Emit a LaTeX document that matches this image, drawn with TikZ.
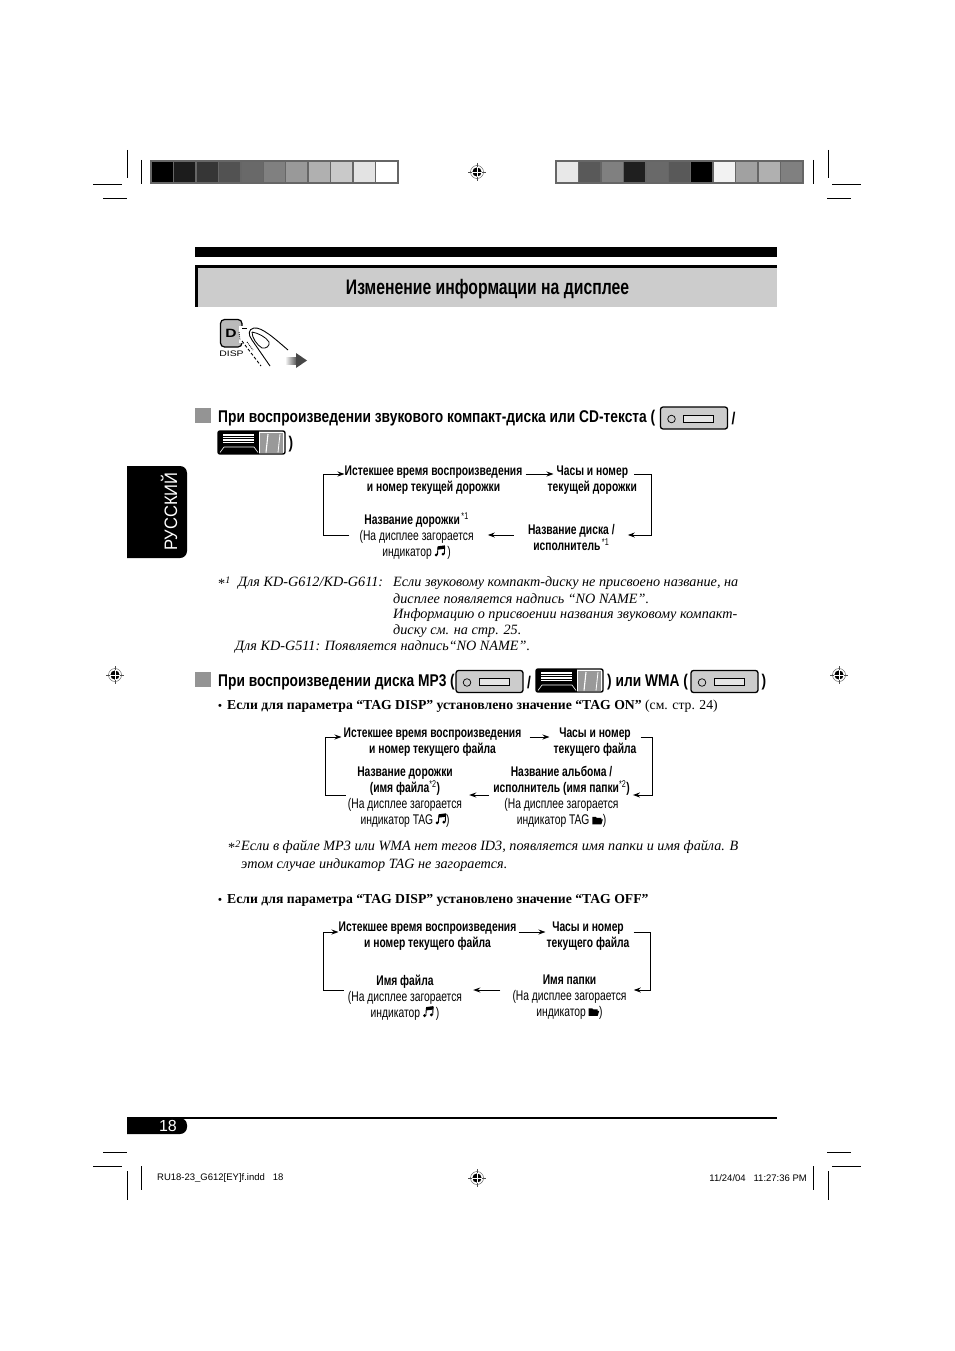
\documentclass[tikz,border=0pt]{standalone}
\usepackage{fontspec}
\setmainfont{Liberation Serif}
\newfontfamily\titlefont[FakeStretch=.75]{Liberation Sans}
\newfontfamily\headfont[FakeStretch=.81]{Liberation Sans}
\newfontfamily\flowfont[FakeStretch=.735]{Liberation Sans}
\newfontfamily\tabfont[FakeStretch=.92]{Liberation Sans}
\newfontfamily\footfont{Liberation Sans}
\newfontfamily\widefont[FakeStretch=1.3]{Liberation Sans}
\usetikzlibrary{arrows.meta,positioning,calc}
\newcommand{\notemark}{\tikz[baseline=0pt,x=1pt,y=1pt]{\fill (1.6,1.4) circle (1.6pt); \fill (8.4,2.2) circle (1.6pt); \draw[line width=.9pt] (2.9,1.4) -- (3.3,9) (9.7,2.2) -- (10.1,10); \fill (3,10) -- (10.4,11) -- (10.4,7.6) -- (3,6.6) -- cycle;}}
\newcommand{\foldmark}{\tikz[baseline=0pt,x=1pt,y=1pt]{\fill (0,0.5) -- (0,8) -- (3.5,8) -- (4.5,7) -- (9,7) -- (9,5.5) -- (10.5,5.5) -- (9,0.5) -- cycle;}}
\newcommand{\smallbullet}{\makebox[9pt][l]{\fontsize{11}{11}\selectfont •}}
\tikzset{
    flowbox/.style={font=\flowfont\fontsize{14}{16}\selectfont, align=center, inner sep=0pt},
    flowbold/.style={flowbox, font=\flowfont\bfseries\fontsize{14}{16}\selectfont},
    headbox/.style={font=\headfont\bfseries\fontsize{17}{20}\selectfont, inner sep=0pt},
    notebox/.style={font=\itshape\fontsize{14.2}{16}\selectfont, inner sep=0pt, anchor=west},
    bulletbox/.style={font=\bfseries\fontsize{13.7}{16}\selectfont, inner sep=0pt, anchor=west},
    flowline/.style={line width=1pt},
    flowarrow/.style={flowline, -{Stealth[length=7pt,width=5pt]}},
    cropline/.style={line width=.8pt},
    regline/.style={line width=.4pt, black!70},
    squaremark/.style={fill=black!42},
    cdunit/.pic={
        \draw[line width=1.3pt, rounded corners=2.5pt, fill=black!20] (0,0) rectangle (67,22);
        \draw[line width=.7pt] (11,12) circle (3.8pt);
        \draw[line width=1pt, fill=black!10] (23,8) rectangle (53,15);
    },
    dispunit/.pic={
        \draw[line width=1.4pt, rounded corners=2pt, fill=white] (0,0) rectangle (67,23);
        \fill (0,0) rectangle (41,23);
        \foreach \yy in {3,4.7,...,13} \draw[white, line width=.8pt] (5,\yy) -- (36,\yy);
        \draw[white, line width=.6pt] (2,21.5) -- (6,16) -- (36,16) -- (40,21.5);
        \fill[black!40] (42,1.5) rectangle (65,21.5);
        \draw[white, line width=1.1pt] (48,21.5) -- (50,3);
        \draw[white, line width=.8pt] (60,21.5) -- (62,3);
    }
}
\begin{document}
\begin{tikzpicture}[x=1pt, y=-1pt]
\useasboundingbox (0,0) rectangle (954,1351);
\fill[white] (0,0) rectangle (954,1351);
% colour bars
\fill[black!60] (150,160) rectangle (399,184);
\foreach \shade [count=\i from 0] in {100,89,79,68,59,50,40,31,21,11,0}
    \fill[black!\shade] (152+22.4*\i,162) rectangle (173+22.4*\i,182);
\fill[black!60] (555,160) rectangle (804,184);
\foreach \shade [count=\i from 0] in {9,65,50,88,59,65,100,5,37,31,50}
    \fill[black!\shade] (557+22.4*\i,162) rectangle (578+22.4*\i,182);
% crop marks
\draw[cropline] (127,150) -- (127,178);
\draw[cropline] (141,160) -- (141,184);
\draw[cropline] (813,160) -- (813,184);
\draw[cropline] (828,150) -- (828,178);
\draw[cropline] (93,184) -- (122,184);
\draw[cropline] (103,198) -- (127,198);
\draw[cropline] (832,184) -- (861,184);
\draw[cropline] (827,198) -- (851,198);
\draw[cropline] (103,1152) -- (127,1152);
\draw[cropline] (93,1166) -- (122,1166);
\draw[cropline] (827,1152) -- (851,1152);
\draw[cropline] (832,1166) -- (861,1166);
\draw[cropline] (127,1171) -- (127,1200);
\draw[cropline] (141,1166) -- (141,1190);
\draw[cropline] (813,1166) -- (813,1190);
\draw[cropline] (828,1171) -- (828,1200);
% registration marks
\foreach \rx/\ry in {477/172,477/1178,115/675,839/675} {
    \draw[regline] (\rx,\ry) circle (6.5pt);
    \draw[regline] (\rx-9,\ry) -- (\rx+9,\ry);
    \draw[regline] (\rx,\ry-9) -- (\rx,\ry+9);
    \fill (\rx,\ry) circle (4.6pt);
    \draw[white, line width=.7pt] (\rx-5,\ry) -- (\rx+5,\ry);
    \draw[white, line width=.7pt] (\rx,\ry-5) -- (\rx,\ry+5);
}
% title
\fill (195,247) rectangle (777,257);
\fill[black!20] (195,265) rectangle (777,307);
\fill (195,265) rectangle (777,268);
\fill (195,265) rectangle (198,307);
\node[font=\titlefont\bfseries\fontsize{21}{24}\selectfont, inner sep=0pt] (title) at (487.5,289.5) {Изменение информации на дисплее};
% display button and finger
\draw[line width=1.2pt, fill=black!27, rounded corners=4pt] (220.5,319.5) rectangle (242,347);
\node[font=\widefont\bfseries\fontsize{12}{12}\selectfont, inner sep=0pt] (dkey) at (231,333) {D};
\node[font=\widefont\fontsize{8}{8}\selectfont, inner sep=0pt] (disp) at (231.5,353.5) {DISP};
\fill[white] (239,326) rectangle (244,343);
\draw[line width=.9pt] (242,328) -- (247,328);
\draw[line width=.9pt, densely dotted] (239,332) -- (240,340);
\draw[line width=.9pt, densely dashed] (242,341) -- (261,366);
\draw[line width=.9pt, densely dotted] (247,342) -- (253,350);
\draw[line width=.9pt] (288,350) .. controls (274,338) and (262,327) .. (254,328) .. controls (248,329) and (248,335) .. (252,340) -- (270,366);
\draw[line width=.8pt] (252,332) .. controls (258,333) and (266,337) .. (269,342) .. controls (270,346) and (266,349) .. (262,348) .. controls (257,345) and (252,338) .. (252,332);
\fill[left color=white, right color=black!70] (285,357) rectangle (297,364);
\fill[black!72] (296,353) -- (307,360.5) -- (296,368) -- cycle;
% side tab
\fill (127,466) -- (176,466) [rounded corners=7pt] -- (187,466) -- (187,558) [sharp corners] -- (127,558) -- cycle;
\node[font=\tabfont\fontsize{18}{18}\selectfont, text=white, rotate=90, inner sep=0pt] (tablabel) at (169,511.5) {РУССКИЙ};
% first section
\fill[squaremark] (195,408) rectangle (211,423);
\node[headbox, anchor=west] (headA) at (218,418.5) {При воспроизведении звукового компакт-диска или CD-текста (};
\pic at (660.5,407) {cdunit};
\node[headbox] (slashA) at (733.5,418.5) {/};
\pic at (218,431) {dispunit};
\node[headbox] (closeA) at (291,444.5) {)};
\node[flowbold] (elapsedA) at (433.5,480) {Истекшее время воспроизведения\\и номер текущей дорожки};
\node[flowbold, right=25pt of elapsedA] (clockA) {Часы и номер\\текущей дорожки};
\node[flowbold, below=30pt of clockA, xshift=-21pt] (discA) {Название диска /\\исполнитель\textsuperscript{\,\textmd{*1}}};
\node[flowbox, left=54pt of discA, yshift=2pt] (trackA) {\textbf{Название дорожки}\textsuperscript{\,*1}\\(На дисплее загорается\\индикатор \notemark\,)};
\coordinate (leftA) at (323,535);
\coordinate (rightA) at (651,535);
\draw[flowarrow] ([xshift=-10pt]trackA.west |- leftA) -- (leftA) |- ([yshift=6pt]elapsedA.west);
\draw[flowarrow] ([shift={(3,-6)}]elapsedA.east) -- ([shift={(6,-6)}]clockA.west);
\draw[flowarrow] ([shift={(-3,-6)}]clockA.east) -| (rightA) -- ([xshift=13pt]discA.east |- rightA);
\draw[flowarrow] ([xshift=-14pt]discA.west |- rightA) -- ([xshift=14pt]trackA.east |- rightA);
% first footnote
\node[notebox] (markA) at (218,583) {\textup{*}\textsuperscript{1}};
\node[notebox] (modelA) at (238,583) {Для KD-G612/KD-G611:};
\node[notebox] (noteAa) at (393,583) {Если звуковому компакт-диску не присвоено название, на};
\node[notebox] (noteAb) at (393,599) {дисплее появляется надпись “NO NAME”.};
\node[notebox] (noteAc) at (393,615) {Информацию о присвоении названия звуковому компакт-};
\node[notebox] (noteAd) at (393,631) {диску см. на стр. 25.};
\node[notebox] (modelB) at (235,647) {Для KD-G511: Появляется надпись“NO NAME”.};
% second section
\fill[squaremark] (195,672) rectangle (211,687);
\node[headbox, anchor=west] (headB) at (218,682.5) {При воспроизведении диска MP3 (};
\pic at (456,670.5) {cdunit};
\node[headbox] (slashB) at (529,682.5) {/};
\pic at (536,669) {dispunit};
\node[headbox, anchor=west] (wmaB) at (607,682.5) {) или WMA (};
\pic at (691,670.5) {cdunit};
\node[headbox] (closeB) at (764,682.5) {)};
\node[bulletbox] (bulletB) at (218,706) {\smallbullet Если для параметра “TAG DISP” установлено значение “TAG ON” \textmd{(см. стр. 24)}};
\node[flowbold] (elapsedB) at (432.5,742) {Истекшее время воспроизведения\\и номер текущего файла};
\node[flowbold, right=32pt of elapsedB] (clockB) {Часы и номер\\текущего файла};
\node[flowbox, below=10pt of elapsedB, xshift=-27.5pt] (trackB) {\textbf{Название дорожки}\\\textbf{(имя файла}\textsuperscript{*2}\textbf{)}\\(На дисплее загорается\\индикатор TAG\,\notemark)};
\node[flowbox, below=10pt of clockB, xshift=-33.5pt] (discB) {\textbf{Название альбома /}\\\textbf{исполнитель (имя папки}\textsuperscript{*2}\textbf{)}\\(На дисплее загорается\\индикатор TAG \foldmark)};
\coordinate (leftB) at (325,795);
\coordinate (rightB) at (652,795);
\draw[flowarrow] ([xshift=-2pt]trackB.west |- leftB) -- (leftB) |- ([shift={(-2,-5)}]elapsedB.west);
\draw[flowarrow] ([shift={(8,-5)}]elapsedB.east) -- ([shift={(-4,-5)}]clockB.west);
\draw[flowarrow] ([shift={(4,-5)}]clockB.east) -| (rightB) -- ([xshift=3pt]discB.east |- rightB);
\draw[flowarrow] ([xshift=-4pt]discB.west |- rightB) -- ([xshift=7pt]trackB.east |- rightB);
% second footnote
\node[notebox] (markB) at (228,847) {\textup{*}\textsuperscript{2}};
\node[notebox] (noteBa) at (241,847) {Если в файле MP3 или WMA нет тегов ID3, появляется имя папки и имя файла. В};
\node[notebox] (noteBb) at (241,865) {этом случае индикатор TAG не загорается.};
\node[bulletbox] (bulletC) at (218,900) {\smallbullet Если для параметра “TAG DISP” установлено значение “TAG OFF”};
% third chart
\node[flowbold] (elapsedC) at (427.5,936) {Истекшее время воспроизведения\\и номер текущего файла};
\node[flowbold, right=30pt of elapsedC] (clockC) {Часы и номер\\текущего файла};
\node[flowbox, below=24pt of elapsedC, xshift=-22.5pt] (fileC) {\textbf{Имя файла}\\(На дисплее загорается\\индикатор \notemark\,)};
\node[flowbox, below=24pt of clockC, xshift=-18.5pt] (folderC) {\textbf{Имя папки}\\(На дисплее загорается\\индикатор \foldmark)};
\coordinate (leftC) at (323,990);
\coordinate (rightC) at (650,990);
\draw[flowarrow] ([xshift=-4pt]fileC.west |- leftC) -- (leftC) |- ([shift={(0,-4)}]elapsedC.west);
\draw[flowarrow] ([shift={(2,-4)}]elapsedC.east) -- ([shift={(-1,-4)}]clockC.west);
\draw[flowarrow] ([shift={(4,-4)}]clockC.east) -| (rightC) -- ([xshift=7pt]folderC.east |- rightC);
\draw[flowarrow] ([xshift=-12pt]folderC.west |- rightC) -- ([xshift=11pt]fileC.east |- rightC);
% footer
\draw[line width=2pt] (127,1118) -- (777,1118);
\fill (127,1118) -- (176,1118) [rounded corners=7pt] -- (187,1118) -- (187,1134) [sharp corners] -- (127,1134) -- cycle;
\node[font=\footfont\fontsize{16}{16}\selectfont, text=white, inner sep=0pt] (pagenum) at (168,1126) {18};
\node[font=\footfont\fontsize{9.5}{11}\selectfont, inner sep=0pt, anchor=west] (slugfile) at (157,1178) {RU18-23\_G612[EY]f.indd\ \ \ 18};
\node[font=\footfont\fontsize{9.5}{11}\selectfont, inner sep=0pt, anchor=east] (slugdate) at (807,1178) {11/24/04\ \ \ 11:27:36 PM};
\end{tikzpicture}
\end{document}
